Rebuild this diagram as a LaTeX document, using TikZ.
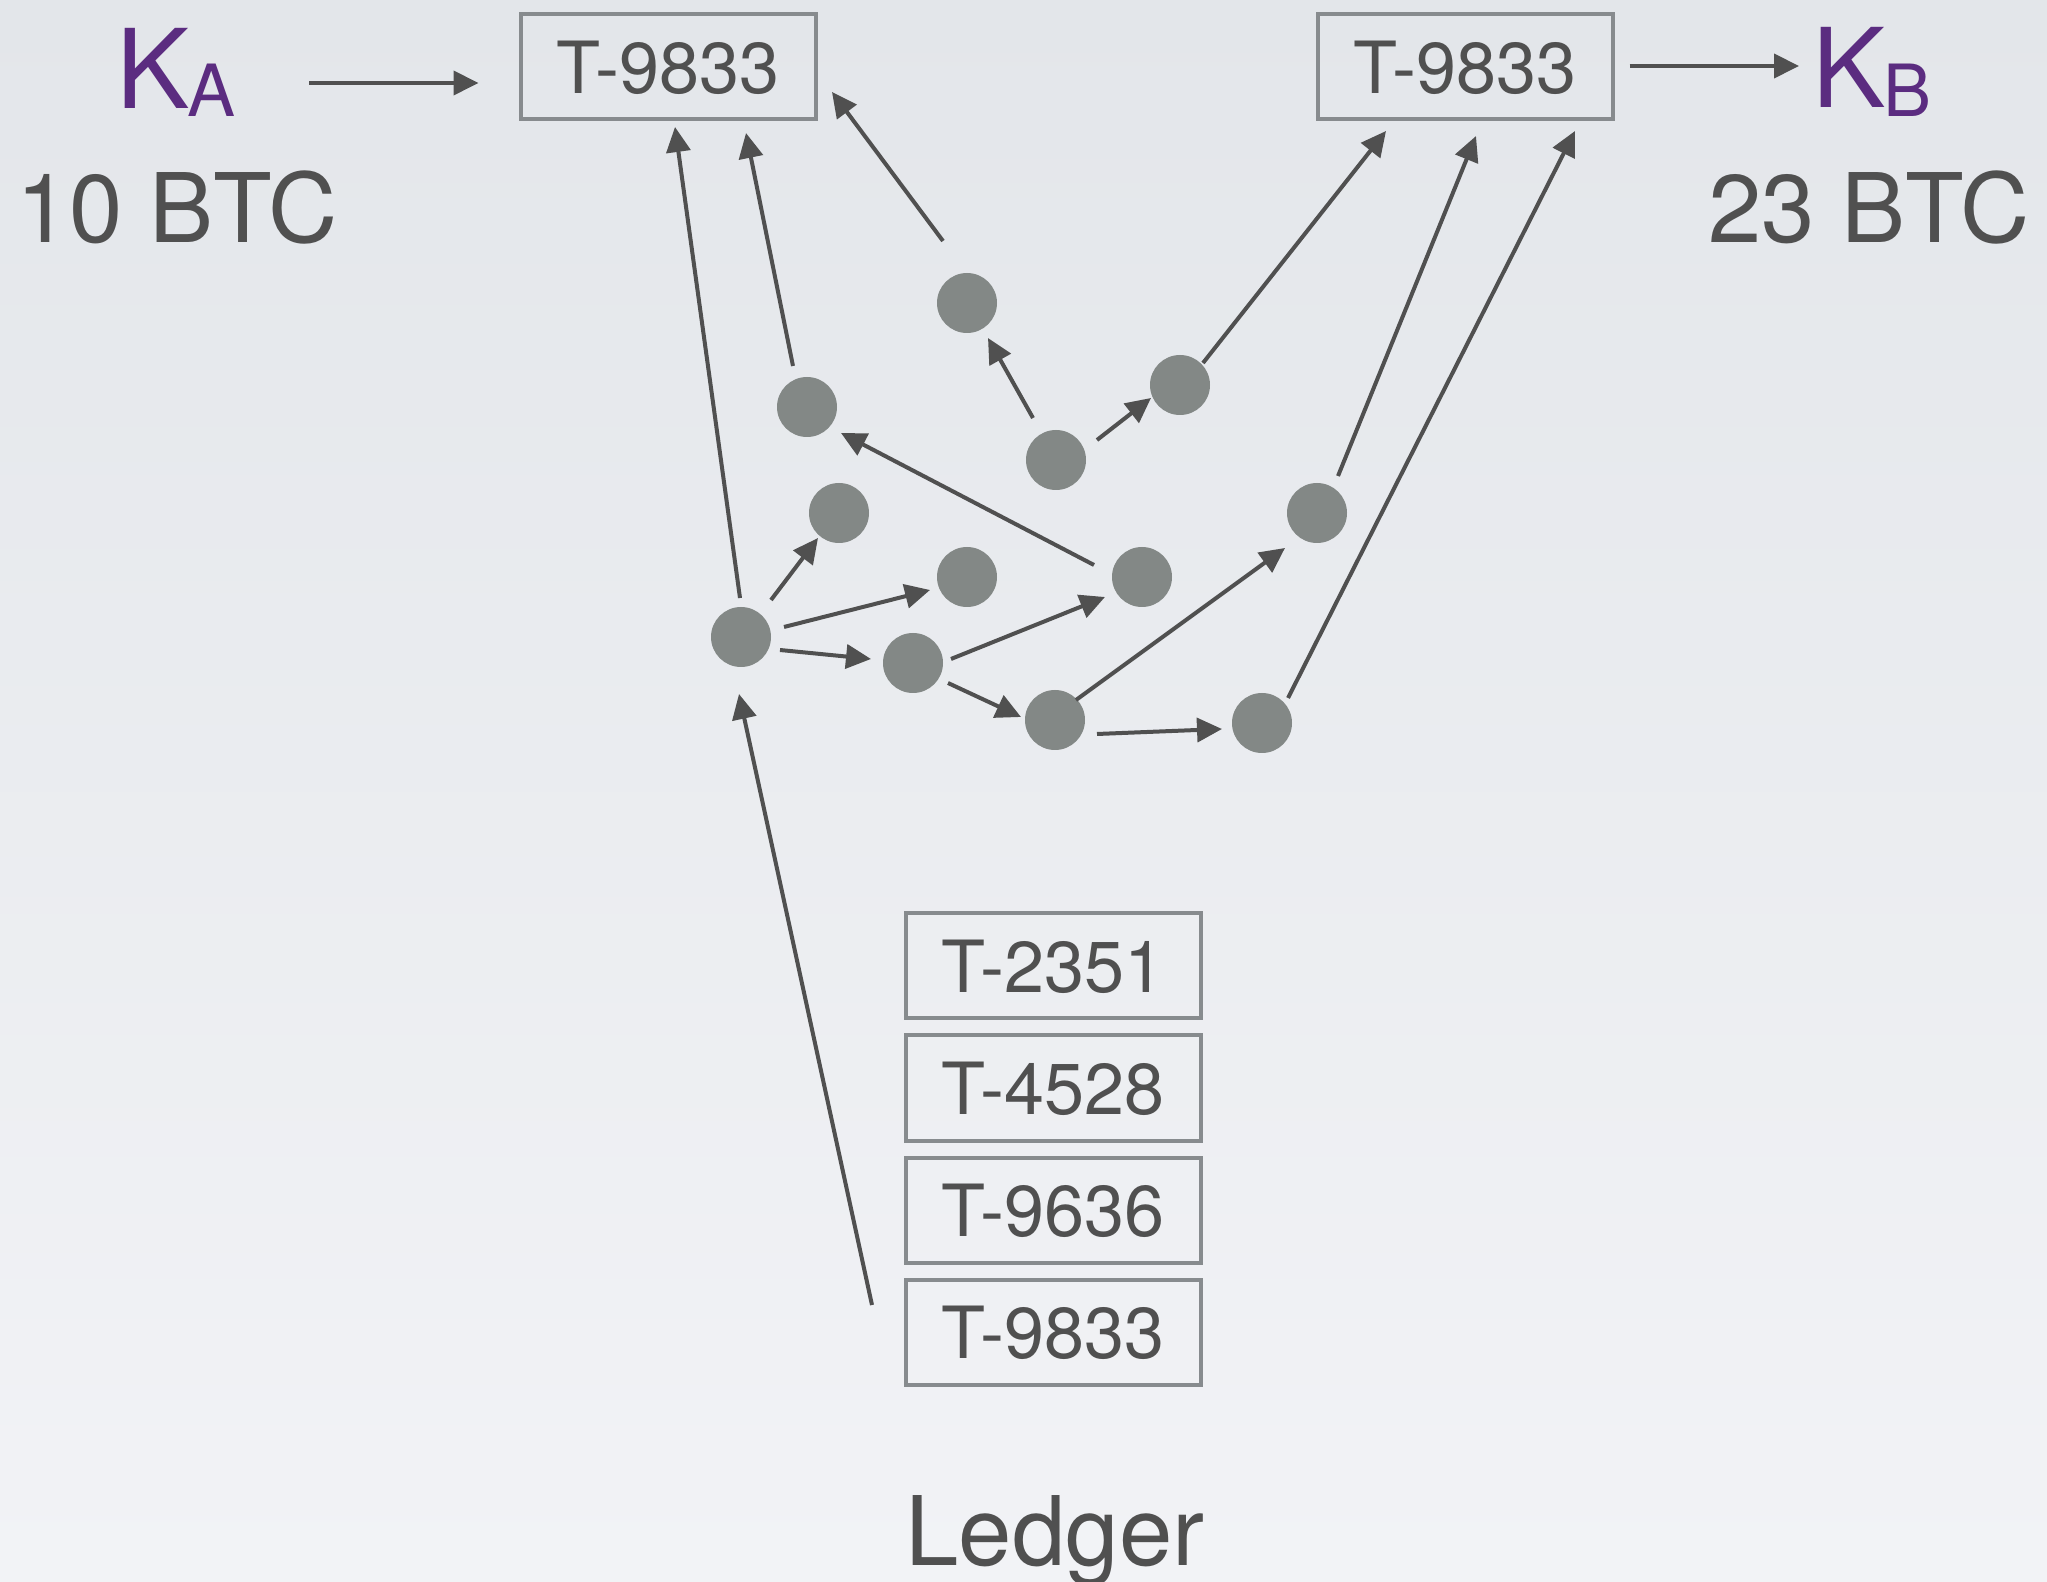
\documentclass[tikz,border=0pt]{standalone}
\usepackage{fontspec}
\setmainfont{TeX Gyre Heros}
\usetikzlibrary{arrows.meta,calc}
\definecolor{bgtop}{HTML}{E3E6EA}
\definecolor{bgbot}{HTML}{F2F3F6}
\definecolor{ink}{HTML}{505050}
\definecolor{framec}{HTML}{878B8E}
\definecolor{dotc}{HTML}{838886}
\definecolor{keyc}{HTML}{5B2C80}
\begin{document}
\begin{tikzpicture}[x=0.5pt,y=-0.5pt,
  txbox/.style={draw=framec,line width=2pt,inner sep=0pt,
    minimum width=147.5pt,minimum height=52.5pt,text=ink,
    font=\fontsize{36}{40}\selectfont,text height=26.5pt,text depth=0pt},
  dotn/.style={circle,fill=dotc,draw=none,minimum size=30pt,inner sep=0pt},
  link/.style={draw=ink,line width=2pt,-{Triangle[length=12.5pt,width=12pt]}},
  big/.style={inner sep=0pt,text=ink,font=\fontsize{48}{52}\selectfont},
  keylbl/.style={inner sep=0pt,text=keyc,font=\fontsize{55}{60}\selectfont}]

% background
\shade[top color=bgtop,bottom color=bgbot] (0,0) rectangle (2047,1582);
\useasboundingbox (0,0) rectangle (2047,1582);

% wallets and amounts
\node[keylbl,anchor=base west] (ka) at (116,109)
  {K\kern-1pt\raisebox{-4pt}{\fontsize{36}{40}\selectfont A}};
\node[keylbl,anchor=base west] (kb) at (1812,108)
  {K\kern-1pt\raisebox{-4.5pt}{\fontsize{36}{40}\selectfont B}};
\node[big,anchor=base west] (amta) at (16,243) {10 BTC};
\node[big,anchor=base east] (amtb) at (2030,243) {23 BTC};

% the transaction, seen from both sides
\node[txbox] (lbox) at (668,67) {T-9833};
\node[txbox] (rbox) at (1465,67) {T-9833};

% ledger
\node[txbox] (l1) at (1053,966) {T-2351};
\node[txbox] (l2) at (1053,1088) {T-4528};
\node[txbox] (l3) at (1053,1210) {T-9636};
\node[txbox] (l4) at (1053,1332) {T-9833};
\node[anchor=base,inner sep=0pt,text=ink,font=\fontsize{48}{52}\selectfont] (ledger) at (1055,1565) {Ledger};

% network peers
\node[dotn] (d1) at (967,303) {};
\node[dotn] (d2) at (807,407) {};
\node[dotn] (d3) at (1180,385) {};
\node[dotn] (d4) at (1056,460) {};
\node[dotn] (d5) at (839,513) {};
\node[dotn] (d6) at (1317,513) {};
\node[dotn] (d7) at (967,577) {};
\node[dotn] (d8) at (1142,577) {};
\node[dotn] (d9) at (741,637) {};
\node[dotn] (d10) at (913,663) {};
\node[dotn] (d11) at (1055,720) {};
\node[dotn] (d12) at (1262,723) {};

% sender and receiver
\draw[link] ($(ka.base west)+(193,-26)$) -- ($(lbox.west)+(-40,16)$);
\draw[link] ($(rbox.east)+(15,-1)$) -- ($(kb.base west)+(-13,-42)$);

% ledger entry enters the network
\draw[link] ($(l4)+(-181,-27)$) -- ($(d9)+(-2,57)$);

% propagation between peers
\draw[link] ($(d9)+(39,13)$) -- ($(d10)+(-42,-4)$);
\draw[link] ($(d9)+(43,-10)$) -- ($(d7)+(-37,13)$);
\draw[link] ($(d9)+(30,-37)$) -- ($(d5)+(-21,25)$);
\draw[link] ($(d10)+(38,-4)$) -- ($(d8)+(-37,20)$);
\draw[link] ($(d10)+(35,20)$) -- ($(d11)+(-34,-3)$);
\draw[link] ($(d11)+(21,-20)$) -- ($(d6)+(-32,35)$);
\draw[link] ($(d11)+(42,14)$) -- ($(d12)+(-40,6)$);
\draw[link] ($(d8)+(-48,-12)$) -- ($(d2)+(34,26)$);
\draw[link] ($(d4)+(-23,-42)$) -- ($(d1)+(21,35)$);
\draw[link] ($(d4)+(41,-20)$) -- ($(d3)+(-29,13)$);

% peers reaching the transaction
\draw[link] ($(d9)+(-1,-39)$) -- ($(lbox)+(7,60)$);
\draw[link] ($(d2)+(-14,-41)$) -- ($(lbox)+(78,66)$);
\draw[link] ($(d1)+(-24,-62)$) -- ($(lbox)+(164,25)$);
\draw[link] ($(d3)+(23,-22)$) -- ($(rbox)+(-79,64)$);
\draw[link] ($(d6)+(21,-37)$) -- ($(rbox)+(11,69)$);
\draw[link] ($(d12)+(26,-25)$) -- ($(rbox)+(110,64)$);
\end{tikzpicture}
\end{document}
